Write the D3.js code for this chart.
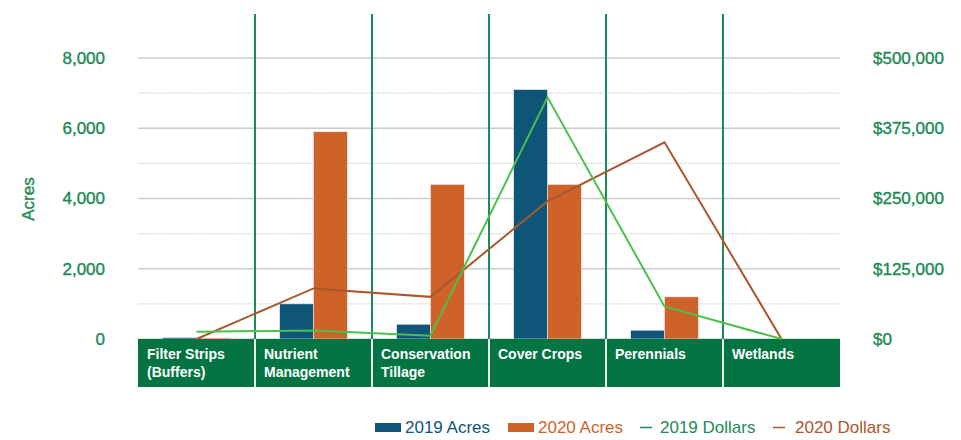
<!DOCTYPE html>
<html><head><meta charset="utf-8">
<script src="https://cdn.jsdelivr.net/npm/d3@7"></script>
<style>
body{margin:0;background:#fff;}
svg{display:block;font-family:"Liberation Sans",Arial,Helvetica,sans-serif;}
</style></head>
<body><svg id="c" width="961" height="440"></svg>
<script>
const categories = [["Filter Strips","(Buffers)"],["Nutrient","Management"],["Conservation","Tillage"],["Cover Crops"],["Perennials"],["Wetlands"]];
const acres2019 = [40, 1000, 420, 7100, 250, 0];
const acres2020 = [30, 5900, 4400, 4400, 1200, 0];
const dollars2019 = [13000, 15000, 6000, 430000, 58000, 0];
const dollars2020 = [0, 90000, 75000, 245000, 350000, 0];
const leftTicks = [0, 2000, 4000, 6000, 8000];
const minorTicks = [1000, 3000, 5000, 7000];
const rightTicks = [0, 125000, 250000, 375000, 500000];

const C = {blue:"#0f5577", orange:"#cf6228", band:"#047443", vline:"#1e8a55", lgreen:"#4cc04c", brown:"#a9582e", text:"#1e8a55", grid:"#cccccc"};

const svg = d3.select("#c");
const L = 138, R = 840, T = 58, B = 339, bandH = 48;
const x = d3.scaleBand().domain(d3.range(categories.length)).range([L, R]).padding(0);
const xi = d3.scaleBand().domain([0,1]).range([0, x.bandwidth()]).paddingInner(0).paddingOuter(0.73);
const y = d3.scaleLinear().domain([0, 8000]).range([B, T]);
const y2 = d3.scaleLinear().domain([0, 500000]).range([B, T]);

// grid
svg.append("g").selectAll("line").data(leftTicks).join("line")
  .attr("x1", L).attr("x2", R).attr("y1", d=>y(d)).attr("y2", d=>y(d))
  .attr("stroke", C.grid).attr("stroke-width", 1.5);
svg.append("g").selectAll("line").data(minorTicks).join("line")
  .attr("x1", L).attr("x2", R).attr("y1", d=>y(d)).attr("y2", d=>y(d))
  .attr("stroke", "#d6d6d6").attr("stroke-width", 1.2).attr("stroke-dasharray", "1.5,1");

// vertical separators
svg.append("g").selectAll("line").data(d3.range(1, categories.length)).join("line")
  .attr("x1", d=>x(d)).attr("x2", d=>x(d)).attr("y1", 14).attr("y2", B + bandH)
  .attr("stroke", C.vline).attr("stroke-width", 2);

// bars
const g = svg.append("g");
categories.forEach((c, i) => {
  [[acres2019[i], C.blue], [acres2020[i], C.orange]].forEach(([v, col], j) => {
    if (v <= 0) return;
    g.append("rect").attr("x", x(i) + xi(j)).attr("width", xi.bandwidth())
      .attr("y", y(v)).attr("height", B - y(v)).attr("fill", col)
      .attr("stroke", "#e8eef0").attr("stroke-width", 0.6);
  });
});

// category band
svg.append("rect").attr("x", L).attr("y", B).attr("width", R - L).attr("height", bandH).attr("fill", C.band);
svg.append("g").selectAll("line").data(d3.range(1, categories.length)).join("line")
  .attr("x1", d=>x(d)).attr("x2", d=>x(d)).attr("y1", B).attr("y2", B + bandH)
  .attr("stroke", "#e6efe9").attr("stroke-width", 2);
const ct = svg.append("g").selectAll("text").data(categories).join("text")
  .attr("x", (d,i)=>x(i) + 9).attr("y", B + 20)
  .attr("fill", "#fff").attr("font-size", 14).attr("font-weight", "bold");
ct.selectAll("tspan").data(d=>d).join("tspan")
  .attr("x", function(){ return this.parentNode.getAttribute("x"); })
  .attr("dy", (d,k)=> k === 0 ? 0 : 18).text(d=>d);

// lines
const cx = i => x(i) + x.bandwidth()/2;
const line = d3.line().x((d,i)=>cx(i)).y(d=>y2(d));
svg.append("path").datum(dollars2020).attr("d", line).attr("fill","none").attr("stroke", C.brown).attr("stroke-width", 2);
svg.append("path").datum(dollars2019).attr("d", line).attr("fill","none").attr("stroke", C.lgreen).attr("stroke-width", 2);

// axes labels
svg.append("g").selectAll("text").data(leftTicks).join("text")
  .attr("x", 105).attr("y", d=>y(d)).attr("dy", "0.35em").attr("text-anchor", "end")
  .attr("fill", C.text).attr("stroke", C.text).attr("stroke-width", 0.4)
  .attr("font-size", 17).text(d=>d3.format(",")(d));
svg.append("g").selectAll("text").data(rightTicks).join("text")
  .attr("x", 873).attr("y", d=>y2(d)).attr("dy", "0.35em").attr("text-anchor", "start")
  .attr("fill", C.text).attr("stroke", C.text).attr("stroke-width", 0.4)
  .attr("font-size", 17).text(d=>"$" + d3.format(",")(d));
svg.append("text").attr("transform", "translate(34,199) rotate(-90)").attr("text-anchor", "middle")
  .attr("fill", C.text).attr("stroke", C.text).attr("stroke-width", 0.4)
  .attr("font-size", 17).text("Acres");

// legend
const legend = [
  {label:"2019 Acres", color:C.blue, type:"rect", sx:375, tx:405, tc:C.blue},
  {label:"2020 Acres", color:C.orange, type:"rect", sx:508, tx:538, tc:C.orange},
  {label:"2019 Dollars", color:C.vline, type:"line", sx:640, tx:660, tc:C.vline},
  {label:"2020 Dollars", color:C.brown, type:"line", sx:773, tx:795, tc:C.brown}
];
const ly = 427;
const lg = svg.append("g").selectAll("g").data(legend).join("g");
lg.filter(d=>d.type==="rect").append("rect").attr("x", d=>d.sx).attr("y", ly-4).attr("width", 26).attr("height", 9).attr("fill", d=>d.color);
lg.filter(d=>d.type==="line").append("line").attr("x1", d=>d.sx).attr("x2", d=>d.sx+12).attr("y1", ly+0.5).attr("y2", ly+0.5).attr("stroke", d=>d.color).attr("stroke-width", 1.5);
lg.append("text").attr("x", d=>d.tx).attr("y", ly).attr("dy", "0.35em").attr("fill", d=>d.tc).attr("font-size", 17).text(d=>d.label);
</script></body></html>
